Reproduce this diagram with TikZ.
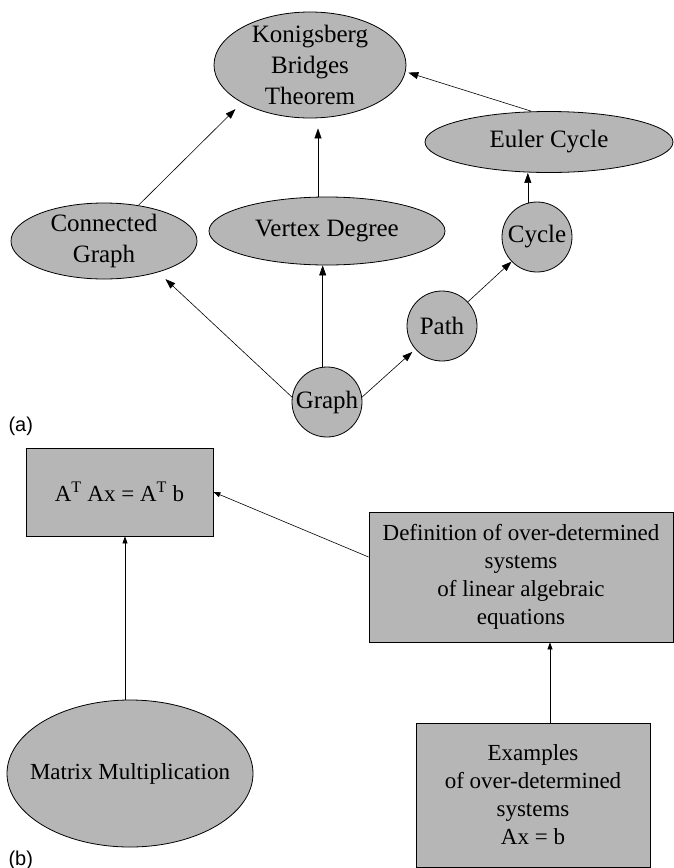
\documentclass[tikz,border=0pt]{standalone}
\usepackage{fontspec}
\setmainfont{Liberation Serif}
\newfontfamily\lblfont{Liberation Sans}
\usetikzlibrary{shapes.geometric,arrows.meta}
\definecolor{nodegray}{RGB}{182,182,182}

\begin{document}
\begin{tikzpicture}[x=1pt,y=-1pt,
    el/.style={ellipse,draw,fill=nodegray,line width=0.8pt,inner sep=-20pt,align=center,font=\fontsize{25}{31}\selectfont},
    ci/.style={circle,draw,fill=nodegray,line width=0.8pt,inner sep=-20pt,minimum size=70pt,font=\fontsize{25}{31}\selectfont},
    bx/.style={rectangle,draw,fill=nodegray,line width=0.8pt,align=center,font=\fontsize{23}{28}\selectfont},
    up/.style={-{Triangle[length=10pt,width=7pt]},line width=0.6pt},
    upb/.style={-{Triangle[length=7pt,width=5pt]},line width=0.6pt}]
    \useasboundingbox (0,0) rectangle (674,868);

    \node[el,minimum width=192pt,minimum height=106pt] (kb) at (310,65) {Konigsberg\\Bridges\\Theorem};
    \node[el,minimum width=248pt,minimum height=61pt] (ec) at (549,142) {Euler Cycle};
    \node[el,minimum width=186pt,minimum height=76pt] (cg) at (104,241) {Connected\\Graph};
    \node[el,minimum width=236pt,minimum height=68pt] (vd) at (327,231) {Vertex Degree};
    \node[ci] (cy) at (537,237) {Cycle};
    \node[ci] (pa) at (442,326) {Path};
    \node[ci] (gr) at (327,402) {Graph};
    \node[anchor=west,font=\lblfont\fontsize{20}{24}\selectfont] (la) at (5,426) {(a)};

    \draw [up,shorten >=9pt] (cg.46) to (kb.209);
    \draw [up,shorten >=10pt] ([xshift=-9pt]vd.north) to ([xshift=8pt]kb.south);
    \draw [up,shorten >=2pt] ([xshift=-18pt]ec.north) to ([yshift=-7pt]kb.east);
    \draw [up] (cy.105) to (cy.105 |- ec.south);
    \draw [up] (pa.43) to (cy.224);
    \draw [up,shorten >=4pt] (gr.8) to (pa.221);
    \draw [up] (gr.97) to (gr.97 |- vd.south);
    \draw [up,shorten >=10pt] (gr.172) to (cg.330);

    \node[bx,minimum width=187pt,minimum height=88pt] (ata) at (119.5,492) {A\textsuperscript{T} Ax = A\textsuperscript{T} b};
    \node[bx,minimum width=304pt,minimum height=130pt] (def) at (521,577) {Definition of over-determined\\systems\\of linear algebraic\\equations};
    \node[el,minimum width=246pt,minimum height=147pt,font=\fontsize{23}{28}\selectfont] (mm) at (130,773.5) {Matrix Multiplication};
    \node[bx,minimum width=234pt,minimum height=144pt] (ex) at (533,795) {Examples\\of over-determined\\systems\\Ax = b};
    \node[anchor=west,font=\lblfont\fontsize{20}{24}\selectfont] (lb) at (5,860) {(b)};

    \draw [upb] ([yshift=20pt]def.west) to (ata.east);
    \draw [upb] ([xshift=-5pt]mm.north) to ([xshift=-5pt]mm.north |- ata.south);
    \draw [upb] ([xshift=17pt]ex.north) to ([xshift=17pt]ex.north |- def.south);
  \end{tikzpicture}
\end{document}
